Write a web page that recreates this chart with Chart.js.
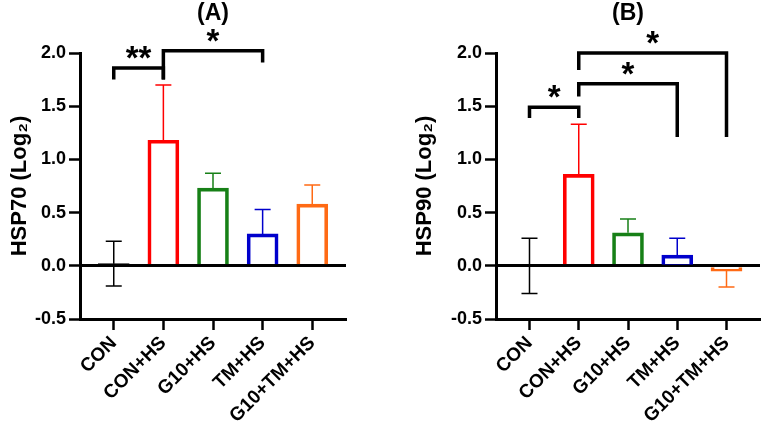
<!DOCTYPE html>
<html>
<head>
<meta charset="utf-8">
<script src="https://cdn.jsdelivr.net/npm/chart.js@4.4.1/dist/chart.umd.min.js"></script>
<style>
  html, body { margin: 0; padding: 0; background: #fff; }
  #wrap { position: relative; width: 763px; height: 429px; }
  .panel { position: absolute; top: 0; height: 429px; }
  #panelA { left: 0; width: 380px; }
  #panelB { left: 380px; width: 383px; }
</style>
</head>
<body>
<div id="wrap">
  <div class="panel" id="panelA"><canvas id="chartA"></canvas></div>
  <div class="panel" id="panelB"><canvas id="chartB"></canvas></div>
</div>
<script>
const groups = ['CON', 'CON+HS', 'G10+HS', 'TM+HS', 'G10+TM+HS'];
const colors = ['#000000', '#ff0000', '#178017', '#0000cc', '#ff6a14'];
const yTicks = [-0.5, 0, 0.5, 1.0, 1.5, 2.0];

const hsp70Mean = [0.02, 1.18, 0.73, 0.30, 0.58];
const hsp70Err = [0.21, 0.52, 0.14, 0.23, 0.18];
const hsp90Mean = [0.00, 0.86, 0.31, 0.10, -0.05];
const hsp90Err = [0.26, 0.47, 0.13, 0.16, 0.15];
const twoSided = [true, false, false, false, false];

// significance brackets (group indexes, bracket height, leg ends)
const hsp70Sig = [
  { from: 0, to: 1, y: 1.86, leftEnd: 1.75, rightEnd: 1.75, label: '**' },
  { from: 1, to: 3, y: 2.02, leftEnd: 1.75, rightEnd: 1.91, label: '*' }
];
const hsp90Sig = [
  { from: 0, to: 1, y: 1.49, leftEnd: 1.39, rightEnd: 1.39, label: '*' },
  { from: 1, to: 3, y: 1.71, leftEnd: 1.59, rightEnd: 1.21, label: '*' },
  { from: 1, to: 4, y: 2.00, leftEnd: 1.84, rightEnd: 1.21, label: '*' }
];

const FONT = "'Liberation Sans', Arial, Helvetica, sans-serif";
Chart.defaults.font.family = FONT;
Chart.defaults.color = '#000';

// error bars + brackets drawn on top of the bars
const overlay = {
  id: 'overlay',
  afterDatasetsDraw(chart, args, opts) {
    const { ctx } = chart;
    const x = chart.scales.x, y = chart.scales.y;
    ctx.save();
    ctx.lineWidth = 1.5;
    opts.mean.forEach((m, i) => {
      const cx = x.getPixelForValue(i);
      const dir = m < 0 ? -1 : 1;
      const ends = [m + dir * opts.err[i]];
      if (opts.twoSided[i]) ends.push(m - dir * opts.err[i]);
      ctx.strokeStyle = colors[i];
      ends.forEach(v => {
        const py = y.getPixelForValue(v);
        ctx.beginPath();
        ctx.moveTo(cx, y.getPixelForValue(m));
        ctx.lineTo(cx, py);
        ctx.moveTo(cx - 8, py);
        ctx.lineTo(cx + 8, py);
        ctx.stroke();
      });
    });

    ctx.strokeStyle = '#000';
    ctx.fillStyle = '#000';
    ctx.lineWidth = 3.5;
    ctx.lineJoin = 'miter';
    ctx.lineCap = 'butt';
    ctx.font = 'bold 33px ' + FONT;
    ctx.textAlign = 'center';
    ctx.textBaseline = 'alphabetic';
    opts.sig.forEach(s => {
      const x1 = x.getPixelForValue(s.from), x2 = x.getPixelForValue(s.to);
      const py = y.getPixelForValue(s.y);
      ctx.beginPath();
      ctx.moveTo(x1, y.getPixelForValue(s.leftEnd));
      ctx.lineTo(x1, py);
      ctx.lineTo(x2, py);
      ctx.lineTo(x2, y.getPixelForValue(s.rightEnd));
      ctx.stroke();
      ctx.fillText(s.label, (x1 + x2) / 2, py + 1);
    });
    ctx.restore();
  }
};

function makeChart(id, title, yTitle, mean, err, sig, axisWidth, padRight, titlePad) {
  return new Chart(document.getElementById(id), {
    type: 'bar',
    data: {
      datasets: [{
        data: mean.map((v, i) => ({ x: i, y: v })),
        backgroundColor: 'rgba(0,0,0,0)',
        borderColor: colors,
        borderWidth: 3,
        barThickness: 31
      }]
    },
    plugins: [overlay],
    options: {
      responsive: true,
      maintainAspectRatio: false,
      animation: false,
      layout: { padding: { left: 0, right: padRight, top: 0, bottom: 0 } },
      plugins: {
        legend: { display: false },
        tooltip: { enabled: false },
        title: {
          display: true,
          text: title,
          fullSize: false,
          color: '#000',
          font: { size: 23, weight: 'bold' },
          padding: { top: 0, bottom: 25.4 }
        },
        overlay: { mean, err, twoSided, sig }
      },
      scales: {
        x: {
          type: 'linear',
          offset: false,
          min: -0.68,
          max: 4.68,
          afterBuildTicks: s => { s.ticks = groups.map((_, i) => ({ value: i })); },
          afterFit: s => { s.height = 110; },
          border: { color: '#000', width: 3 },
          grid: { offset: false, drawOnChartArea: false, color: '#000', tickLength: 11, tickWidth: 2.5 },
          ticks: {
            autoSkip: false,
            minRotation: 45,
            maxRotation: 45,
            padding: 2,
            color: '#000',
            font: { size: 19, weight: 'bold' },
            callback: v => groups[v]
          }
        },
        y: {
          min: -0.5,
          max: 2.0,
          afterBuildTicks: s => { s.ticks = yTicks.map(v => ({ value: v })); },
          afterFit: s => { s.width = axisWidth; },
          border: { color: '#000', width: 3 },
          grid: {
            color: c => (c.tick && c.tick.value === 0 ? '#000' : 'rgba(0,0,0,0)'),
            lineWidth: c => (c.tick && c.tick.value === 0 ? 3 : 1),
            tickColor: '#000',
            tickLength: 11,
            tickWidth: 2.5
          },
          ticks: {
            padding: 3,
            color: '#000',
            font: { size: 18, weight: 'bold' },
            callback: v => v.toFixed(1)
          },
          title: {
            display: true,
            text: yTitle,
            color: '#000',
            font: { size: 22, weight: 'bold' },
            padding: { top: titlePad, bottom: 0 }
          }
        }
      }
    }
  });
}

makeChart('chartA', '(A)', 'HSP70 (Log\u2082)', hsp70Mean, hsp70Err, hsp70Sig, 80, 34, 7);
makeChart('chartB', '(B)', 'HSP90 (Log\u2082)', hsp90Mean, hsp90Err, hsp90Sig, 116, 3, 32);
</script>
</body>
</html>
